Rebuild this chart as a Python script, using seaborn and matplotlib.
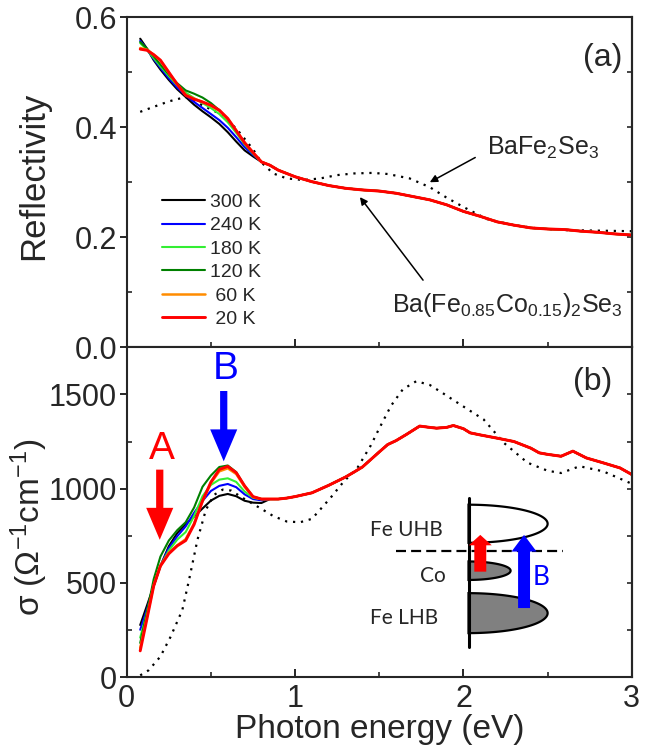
import numpy as np
import pandas as pd
import matplotlib
matplotlib.use('Agg')
import matplotlib.pyplot as plt
from matplotlib.patches import FancyArrowPatch
from matplotlib.ticker import MultipleLocator, FormatStrFormatter
import seaborn as sns

# --- energy grids (eV) ---
e_low = [0.08, 0.12, 0.16, 0.2, 0.25, 0.3, 0.35, 0.4, 0.45, 0.5, 0.55, 0.6, 0.65, 0.7, 0.75, 0.8]
e_refl_high = [0.85, 0.9, 0.95, 1.0, 1.1, 1.2, 1.3, 1.4, 1.5, 1.6, 1.7, 1.8, 1.9, 2.0,
               2.1, 2.2, 2.3, 2.4, 2.5, 2.6, 2.7, 2.8, 2.9, 3.0]
e_sig_high = [0.85, 0.9, 0.95, 1.0, 1.1, 1.2, 1.3, 1.35, 1.4, 1.5, 1.55, 1.6, 1.66, 1.74, 1.8,
              1.84, 1.9, 1.94, 2.0, 2.04, 2.1, 2.2, 2.3, 2.4, 2.45, 2.5, 2.58, 2.65, 2.73,
              2.83, 2.93, 3.0]

temps = ['300 K', '240 K', '180 K', '120 K', ' 60 K', ' 20 K']
colors = ['black', '#0000ff', '#33ee33', '#008000', '#ff8c00', '#ff0000']
widths = [1.5, 1.5, 1.5, 1.5, 1.8, 2.1]

# reflectivity below 0.8 eV, one list per temperature
refl_300 = [0.561, 0.543, 0.522, 0.505, 0.486, 0.469, 0.455, 0.441, 0.429, 0.418, 0.406, 0.391, 0.374, 0.358, 0.347, 0.337]
refl_240 = [0.557, 0.542, 0.524, 0.508, 0.489, 0.472, 0.458, 0.446, 0.435, 0.424, 0.413, 0.399, 0.382, 0.364, 0.350, 0.337]
refl_180 = [0.553, 0.541, 0.526, 0.511, 0.493, 0.476, 0.463, 0.453, 0.444, 0.435, 0.424, 0.409, 0.390, 0.369, 0.352, 0.337]
refl_120 = [0.555, 0.543, 0.529, 0.514, 0.496, 0.480, 0.467, 0.461, 0.454, 0.444, 0.431, 0.414, 0.394, 0.371, 0.353, 0.337]
refl_60 = [0.544, 0.541, 0.532, 0.521, 0.499, 0.478, 0.459, 0.452, 0.446, 0.439, 0.430, 0.415, 0.394, 0.372, 0.354, 0.337]
refl_20 = [0.542, 0.540, 0.532, 0.522, 0.500, 0.478, 0.458, 0.451, 0.446, 0.440, 0.431, 0.416, 0.394, 0.372, 0.354, 0.337]
# common part above 0.8 eV
refl_high = [0.331, 0.322, 0.316, 0.310, 0.301, 0.294, 0.289, 0.286, 0.284, 0.280, 0.274, 0.268,
             0.259, 0.247, 0.238, 0.228, 0.222, 0.217, 0.215, 0.214, 0.211, 0.209, 0.206, 0.204]

# optical conductivity below 0.8 eV
sig_300 = [277, 380, 485, 590, 695, 765, 812, 852, 895, 937, 962, 972, 960, 936, 926, 924]
sig_240 = [252, 360, 484, 590, 685, 748, 800, 872, 935, 988, 1015, 1025, 1008, 970, 945, 938]
sig_180 = [210, 345, 484, 590, 672, 730, 770, 855, 960, 1020, 1048, 1055, 1036, 985, 952, 944]
sig_120 = [182, 345, 520, 640, 725, 780, 822, 900, 1010, 1070, 1115, 1123, 1088, 1015, 958, 945]
sig_60 = [155, 320, 488, 592, 660, 700, 732, 815, 935, 1030, 1092, 1108, 1078, 1010, 956, 945]
sig_20 = [140, 310, 484, 590, 655, 697, 725, 810, 935, 1035, 1102, 1118, 1085, 1015, 958, 945]
sig_high = [945, 945, 950, 958, 978, 1018, 1062, 1088, 1115, 1195, 1234, 1255, 1287, 1332, 1325,
            1321, 1325, 1335, 1318, 1296, 1285, 1268, 1250, 1215, 1190, 1182, 1172, 1199, 1163,
            1137, 1110, 1075]

# parent compound BaFe2Se3 (dotted)
e_parent_r = [0.08, 0.15, 0.25, 0.35, 0.45, 0.55, 0.65, 0.75, 0.8, 0.87, 0.95, 1.05, 1.15, 1.25,
              1.35, 1.46, 1.55, 1.68, 1.8, 1.9, 2.0, 2.14, 2.3, 2.44, 2.6, 2.8, 3.0]
refl_parent = [0.428, 0.436, 0.447, 0.455, 0.440, 0.425, 0.398, 0.360, 0.336, 0.316, 0.307, 0.304,
               0.307, 0.313, 0.316, 0.317, 0.315, 0.307, 0.291, 0.272, 0.255, 0.233, 0.222, 0.216,
               0.213, 0.212, 0.211]
e_parent_s = [0.08, 0.13, 0.2, 0.26, 0.33, 0.37, 0.42, 0.47, 0.52, 0.57, 0.62, 0.7, 0.8, 0.87,
              0.95, 1.03, 1.1, 1.21, 1.29, 1.37, 1.45, 1.5, 1.57, 1.64, 1.72, 1.8, 1.88, 1.98,
              2.12, 2.24, 2.38, 2.5, 2.58, 2.69, 2.83, 2.99]
sig_parent = [10, 37, 110, 214, 356, 516, 729, 888, 968, 995, 990, 945, 893, 855, 826, 822, 840,
              951, 1039, 1110, 1230, 1320, 1440, 1527, 1570, 1550, 1505, 1447, 1367, 1243, 1138,
              1095, 1083, 1119, 1092, 1030]

refl_low = [refl_300, refl_240, refl_180, refl_120, refl_60, refl_20]
sig_low = [sig_300, sig_240, sig_180, sig_120, sig_60, sig_20]

# band sketch (inset of panel b)
band_names = ['Fe UHB', 'Co', 'Fe LHB']
band_center = [814, 565, 340]
band_half_height = [101, 49, 106]
band_half_width = [0.47, 0.25, 0.47]
band_fill = ['white', '#808080', '#808080']
band_label_xy = [(1.66, 782), (1.82, 537), (1.65, 314)]

sns.set_style('ticks')
plt.rcParams['font.family'] = ['Liberation Sans', 'DejaVu Sans']
plt.rcParams['mathtext.fontset'] = 'custom'
plt.rcParams['mathtext.rm'] = 'Liberation Sans'
plt.rcParams['mathtext.it'] = 'Liberation Sans:italic'
plt.rcParams['mathtext.default'] = 'regular'

fig = plt.figure(figsize=(6.5, 7.5), dpi=100)
ax1 = fig.add_axes([0.195, 0.537, 0.777, 0.44])
ax2 = fig.add_axes([0.195, 0.097, 0.777, 0.44])

dots = (0, (1, 2.6))

# --- (a) reflectivity ---
sns.lineplot(x=e_parent_r, y=refl_parent, ax=ax1, color='k', lw=1.6, linestyle=dots,
             sort=False, estimator=None)
handles = []
for name, col, lw, low in zip(temps, colors, widths, refl_low):
    df = pd.DataFrame({'E': e_low + e_refl_high, 'R': low + refl_high})
    sns.lineplot(data=df, x='E', y='R', ax=ax1, color=col, lw=lw, sort=False, estimator=None)
    handles.append(ax1.lines[-1])
ax1.legend(handles, temps, loc='lower left', bbox_to_anchor=(0.035, 0.005), frameon=False,
           fontsize=14, handlelength=2.2, labelspacing=0.3, handletextpad=0.25)

ax1.text(2.14, 0.362, 'BaFe$_2$Se$_3$', fontsize=18, ha='left', va='center')
ax1.annotate('', xy=(1.80, 0.300), xytext=(2.07, 0.345),
             arrowprops=dict(arrowstyle='-|>', color='k', lw=1.1, mutation_scale=11,
                             shrinkA=0, shrinkB=0))
ax1.text(2.26, 0.076, 'Ba(Fe$_{0.85}$Co$_{0.15}$)$_2$Se$_3$', fontsize=18, ha='center', va='center')
ax1.annotate('', xy=(1.385, 0.273), xytext=(1.76, 0.122),
             arrowprops=dict(arrowstyle='-|>', color='k', lw=1.1, mutation_scale=11,
                             shrinkA=0, shrinkB=0))
ax1.text(0.982, 0.876, '(a)', transform=ax1.transAxes, fontsize=23, ha='right', va='center')

ax1.set_xlim(0, 3)
ax1.set_ylim(0, 0.6)
ax1.yaxis.set_major_locator(MultipleLocator(0.2))
ax1.yaxis.set_minor_locator(MultipleLocator(0.1))
ax1.yaxis.set_major_formatter(FormatStrFormatter('%.1f'))
ax1.set_ylabel('Reflectivity', fontsize=25)
ax1.yaxis.set_label_coords(-0.152, 0.518)
ax1.set_xlabel('')
ax1.tick_params(labelbottom=False)

# --- (b) optical conductivity ---
sns.lineplot(x=e_parent_s, y=sig_parent, ax=ax2, color='k', lw=1.6, linestyle=dots,
             sort=False, estimator=None)
for name, col, lw, low in zip(temps, colors, widths, sig_low):
    df = pd.DataFrame({'E': e_low + e_sig_high, 'S': low + sig_high})
    sns.lineplot(data=df, x='E', y='S', ax=ax2, color=col, lw=lw, sort=False, estimator=None)

# big arrows A and B
for (x0, y0, y1), col, lab, (lx, ly) in zip([(0.196, 1101, 729), (0.576, 1518, 1145)],
                                            ['#ff0000', '#0000ff'], ['A', 'B'],
                                            [(0.21, 1213), (0.586, 1633)]):
    ax2.add_patch(FancyArrowPatch((x0, y0), (x0, y1), mutation_scale=1, color=col, lw=0,
                                  shrinkA=0, shrinkB=0,
                                  arrowstyle='simple,head_length=23,head_width=19.5,tail_width=5.2'))
    ax2.text(lx, ly, lab, color=col, fontsize=28, ha='center', va='center')

# band sketch
theta = np.linspace(-np.pi / 2, np.pi / 2, 80)
x_axis_band = 2.03
for c, h, w, fc in zip(band_center, band_half_height, band_half_width, band_fill):
    ax2.fill(x_axis_band + w * np.cos(theta), c + h * np.sin(theta), facecolor=fc,
             edgecolor='k', lw=1.6, zorder=4)
for name, (tx, ty) in zip(band_names, band_label_xy):
    ax2.text(tx, ty, name, fontsize=15, family=['Lato', 'DejaVu Sans'], ha='center', va='center')
ax2.plot([x_axis_band, x_axis_band], [160, 952], color='k', lw=2.2, zorder=5)
ax2.plot([1.60, 2.59], [667, 667], color='k', lw=1.6, dashes=(4.5, 2.3), zorder=5)
ax2.add_patch(FancyArrowPatch((2.10, 560), (2.10, 755), mutation_scale=1, color='#ff0000', lw=0,
                              shrinkA=0, shrinkB=0, zorder=6,
                              arrowstyle='simple,head_length=7.5,head_width=16.5,tail_width=8.6'))
ax2.add_patch(FancyArrowPatch((2.36, 367), (2.36, 755), mutation_scale=1, color='#0000ff', lw=0,
                              shrinkA=0, shrinkB=0, zorder=6,
                              arrowstyle='simple,head_length=12,head_width=18,tail_width=8.6'))
ax2.text(2.17, 803, 'A', color='#ff0000', fontsize=19, family=['Lato', 'DejaVu Sans'],
         ha='center', va='center')
ax2.text(2.46, 527, 'B', color='#0000ff', fontsize=19, family=['Lato', 'DejaVu Sans'],
         ha='center', va='center')

ax2.text(0.962, 0.894, '(b)', transform=ax2.transAxes, fontsize=23, ha='right', va='center')

ax2.set_xlim(0, 3)
ax2.set_ylim(0, 1750)
ax2.yaxis.set_major_locator(MultipleLocator(500))
ax2.yaxis.set_minor_locator(MultipleLocator(250))
ax2.set_ylabel(r'σ (Ω$^{-1}$cm$^{-1}$)', fontsize=24)
ax2.yaxis.set_label_coords(-0.152, 0.455)
ax2.set_xlabel('Photon energy (eV)', fontsize=24)
ax2.xaxis.set_label_coords(0.5, -0.112)

for ax in (ax1, ax2):
    ax.xaxis.set_major_locator(MultipleLocator(1))
    ax.xaxis.set_minor_locator(MultipleLocator(0.5))
    ax.tick_params(axis='x', which='major', direction='in', length=6, width=1.4, labelsize=22, pad=5)
    ax.tick_params(axis='x', which='minor', direction='in', length=3.5, width=1.2)
    ax.tick_params(axis='y', which='major', direction='out', length=5, width=1.4, labelsize=22, pad=2)
    ax.tick_params(axis='y', which='minor', direction='in', length=3.5, width=1.2)
    for sp in ax.spines.values():
        sp.set_visible(True)
        sp.set_linewidth(1.5)
    sec = ax.secondary_yaxis('right')
    sec.yaxis.set_major_locator(MultipleLocator(0.1 if ax is ax1 else 250))
    sec.tick_params(direction='in', length=3.5, width=1.2, labelright=False)
    sec.spines['right'].set_linewidth(1.5)

fig.savefig('out.png', dpi=100)
